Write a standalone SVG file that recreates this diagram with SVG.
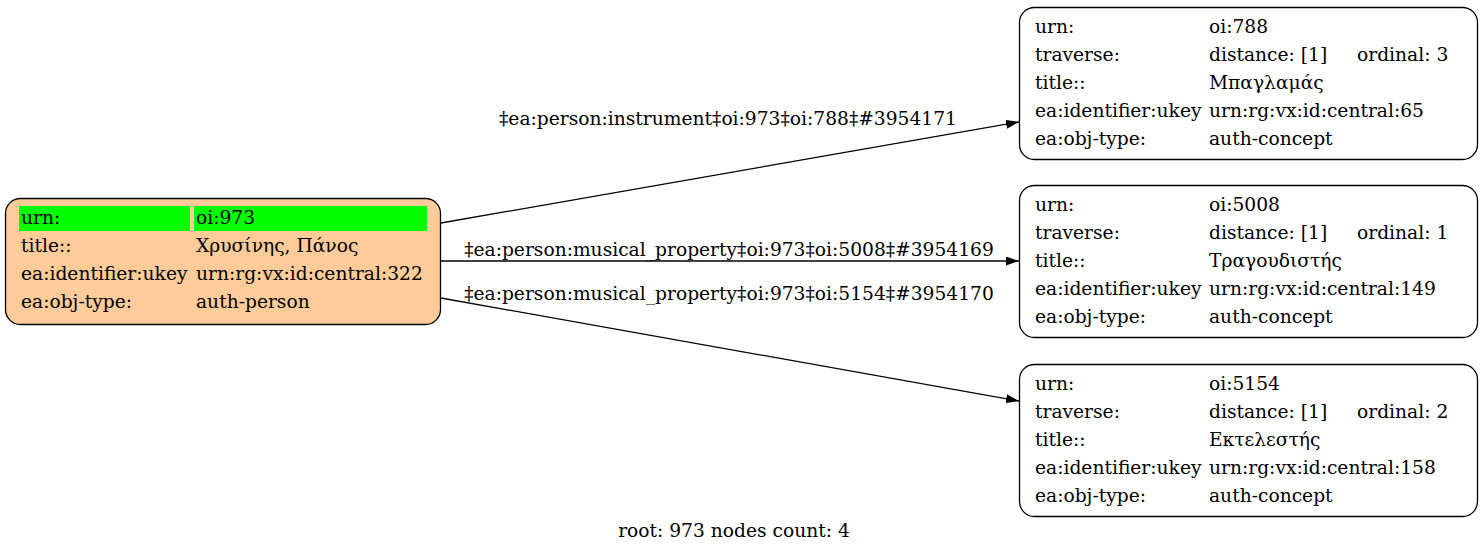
<svg xmlns="http://www.w3.org/2000/svg" width="1483" height="553" viewBox="0 0 1483 553">
<style>
text{font-family:"DejaVu Serif","Liberation Serif",serif;font-size:18.67px;fill:#000}
.node{stroke:#000;stroke-width:1.3}
.edge{stroke:#000;stroke-width:1.3;fill:none}
.mid{text-anchor:middle}
</style>
<defs>
<marker id="arr" viewBox="0 0 13 9" refX="13" refY="4.5" markerWidth="13" markerHeight="9" markerUnits="userSpaceOnUse" orient="auto">
<path d="M0,0 L13,4.5 L0,9 Z" fill="#000"/>
</marker>
</defs>
<rect width="1483" height="553" fill="#fff"/>
<g id="edges">
<path class="edge" d="M441,223 L1019,122" marker-end="url(#arr)"/>
<text class="mid" x="728" y="125">‡ea:person:instrument‡oi:973‡oi:788‡#3954171</text>
<path class="edge" d="M441,261 L1019,261" marker-end="url(#arr)"/>
<text class="mid" x="729" y="256">‡ea:person:musical_property‡oi:973‡oi:5008‡#3954169</text>
<path class="edge" d="M441,298 L1019,401" marker-end="url(#arr)"/>
<text class="mid" x="729" y="300">‡ea:person:musical_property‡oi:973‡oi:5154‡#3954170</text>
</g>
<g id="n973">
<rect class="node" x="5.500" y="198.500" width="435" height="126" rx="15" fill="#ffcc99"/>
<rect x="19" y="206" width="171" height="25" fill="#00ff00"/>
<rect x="194" y="206" width="233" height="25" fill="#00ff00"/>
<text x="21" y="224">urn:</text><text x="196" y="224">oi:973</text>
<text x="21" y="252">title::</text><text x="196" y="252">Χρυσίνης, Πάνος</text>
<text x="21" y="280">ea:identifier:ukey</text><text x="196" y="280">urn:rg:vx:id:central:322</text>
<text x="21" y="308">ea:obj-type:</text><text x="196" y="308">auth-person</text>
</g>
<g id="n788">
<rect class="node" x="1019.500" y="7.500" width="458" height="152" rx="15" fill="#fff"/>
<text x="1035" y="33">urn:</text><text x="1209" y="33">oi:788</text>
<text x="1035" y="61">traverse:</text><text x="1209" y="61">distance: [1]</text><text x="1357" y="61">ordinal: 3</text>
<text x="1035" y="89">title::</text><text x="1209" y="89">Μπαγλαμάς</text>
<text x="1035" y="117">ea:identifier:ukey</text><text x="1209" y="117">urn:rg:vx:id:central:65</text>
<text x="1035" y="145">ea:obj-type:</text><text x="1209" y="145">auth-concept</text>
</g>
<g id="n5008">
<rect class="node" x="1019.500" y="185.500" width="458" height="152" rx="15" fill="#fff"/>
<text x="1035" y="211">urn:</text><text x="1209" y="211">oi:5008</text>
<text x="1035" y="239">traverse:</text><text x="1209" y="239">distance: [1]</text><text x="1357" y="239">ordinal: 1</text>
<text x="1035" y="267">title::</text><text x="1209" y="267">Τραγουδιστής</text>
<text x="1035" y="295">ea:identifier:ukey</text><text x="1209" y="295">urn:rg:vx:id:central:149</text>
<text x="1035" y="323">ea:obj-type:</text><text x="1209" y="323">auth-concept</text>
</g>
<g id="n5154">
<rect class="node" x="1019.500" y="364.500" width="458" height="152" rx="15" fill="#fff"/>
<text x="1035" y="390">urn:</text><text x="1209" y="390">oi:5154</text>
<text x="1035" y="418">traverse:</text><text x="1209" y="418">distance: [1]</text><text x="1357" y="418">ordinal: 2</text>
<text x="1035" y="446">title::</text><text x="1209" y="446">Εκτελεστής</text>
<text x="1035" y="474">ea:identifier:ukey</text><text x="1209" y="474">urn:rg:vx:id:central:158</text>
<text x="1035" y="502">ea:obj-type:</text><text x="1209" y="502">auth-concept</text>
</g>
<text class="mid" x="734" y="537">root: 973 nodes count: 4</text>
</svg>
